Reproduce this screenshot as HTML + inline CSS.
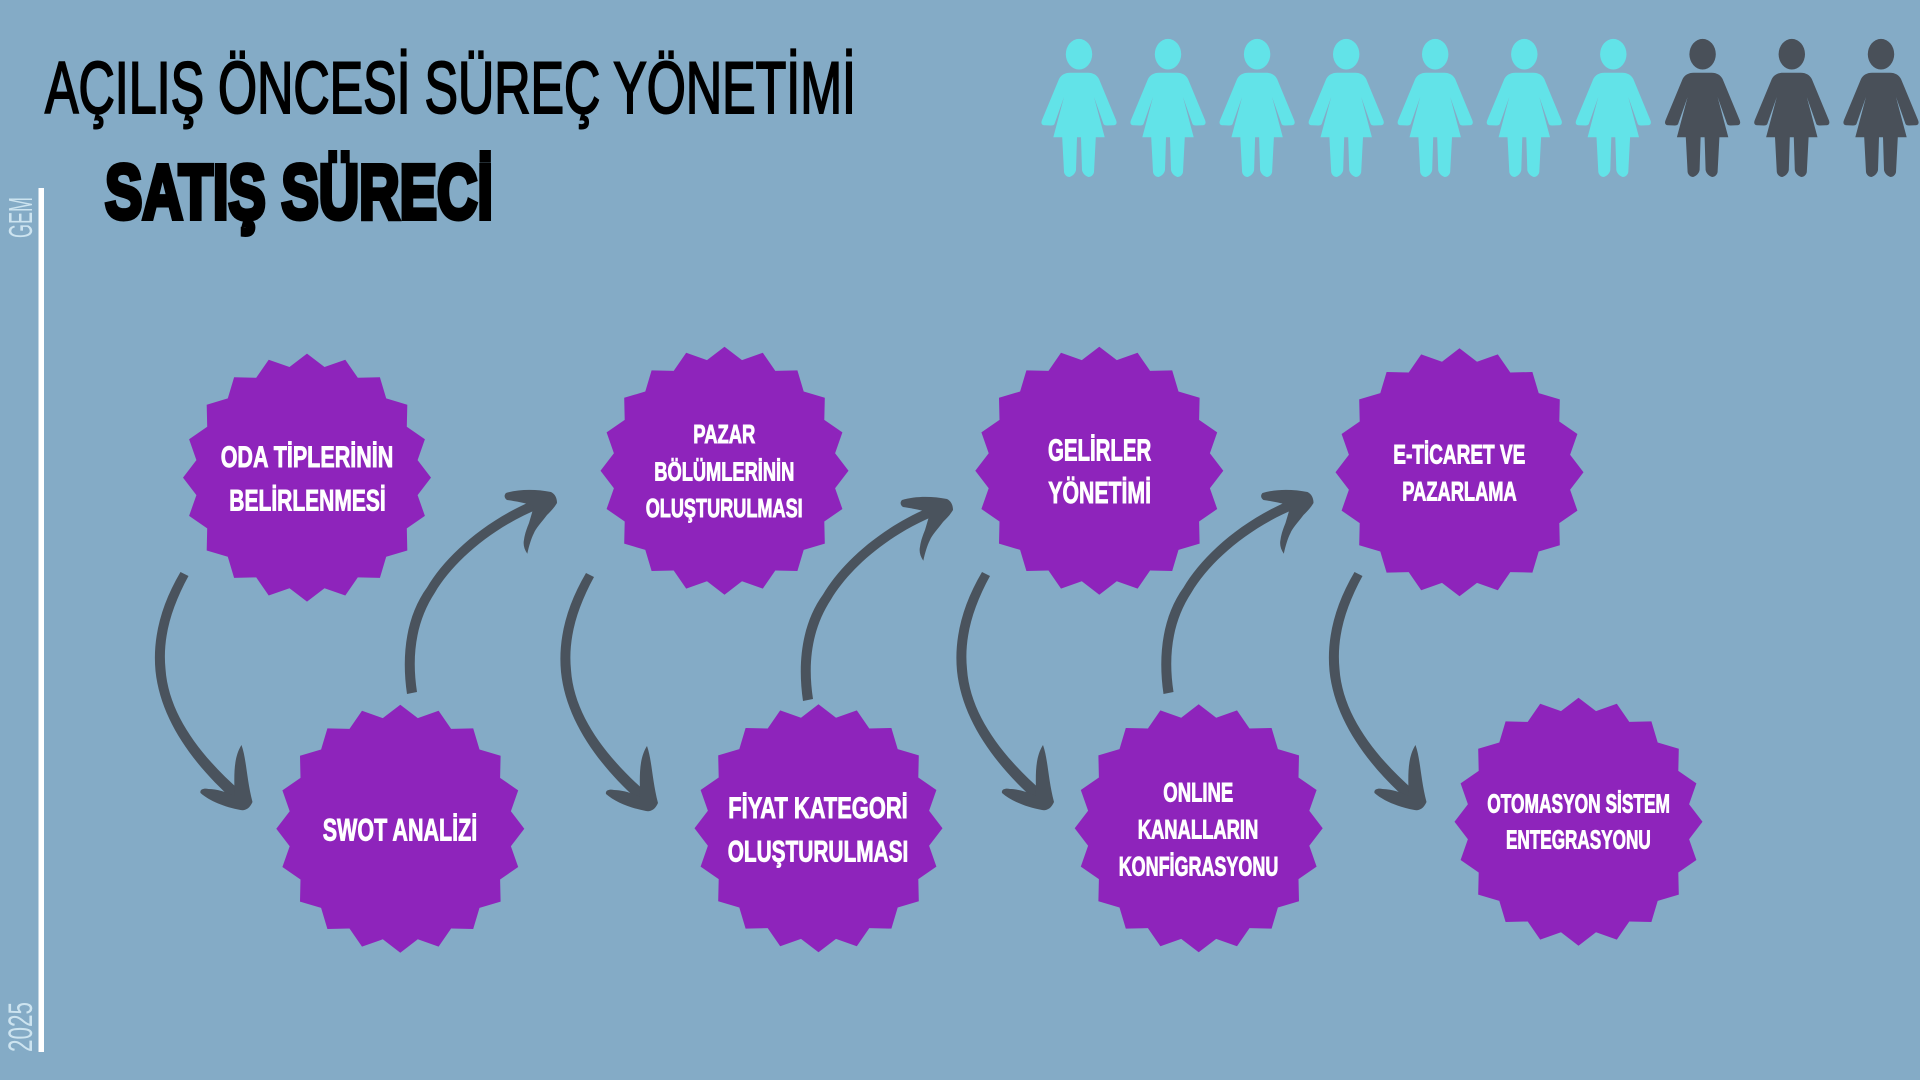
<!DOCTYPE html>
<html lang="tr">
<head>
<meta charset="utf-8">
<title>Açılış Öncesi Süreç Yönetimi</title>
<style>
html,body{margin:0;padding:0;width:1920px;height:1080px;overflow:hidden;background:#84abc6}
svg{display:block}
text{font-family:"Liberation Sans",sans-serif}
.b{font-weight:700;fill:#fff;stroke:#fff;stroke-width:.9px}
</style>
</head>
<body>
<svg xmlns="http://www.w3.org/2000/svg" width="1920" height="1080" viewBox="0 0 1920 1080">
<defs>
<polygon id="star" fill="#8e24bb" points="0,-124 17.5,-110.6 38.3,-117.9 50.8,-99.8 72.9,-100.3 79.2,-79.2 100.3,-72.9 99.8,-50.8 117.9,-38.3 110.6,-17.5 124,0 110.6,17.5 117.9,38.3 99.8,50.8 100.3,72.9 79.2,79.2 72.9,100.3 50.8,99.8 38.3,117.9 17.5,110.6 0,124 -17.5,110.6 -38.3,117.9 -50.8,99.8 -72.9,100.3 -79.2,79.2 -100.3,72.9 -99.8,50.8 -117.9,38.3 -110.6,17.5 -124,0 -110.6,-17.5 -117.9,-38.3 -99.8,-50.8 -100.3,-72.9 -79.2,-79.2 -72.9,-100.3 -50.8,-99.8 -38.3,-117.9 -17.5,-110.6"/>
<g id="person">
<ellipse cx="0" cy="54.2" rx="13.2" ry="15.3"/>
<path d="M-9,72.7H9C14,72.7 18,75 20,79L37,120C38.5,123.5 37,125.3 34,125.3L28,125.5C26,125.5 25,125 24.5,124L15,97L25.7,137.3H16.8L15,172C14.5,175 12,177 9.5,177C6,176 3.5,173 3,170L2,137.3H-2L-3,170C-3.5,173 -6,176 -9.5,177C-12,177 -14.5,175 -15,172L-16.8,137.3H-25.7L-15,97L-24.5,124C-25,125 -26,125.5 -28,125.5L-34,125.3C-37,125.3 -38.5,123.5 -37,120L-20,79C-18,75 -14,72.7 -9,72.7Z"/>
</g>
<g id="down" fill="#4a535d">
<path d="M586,573C566,607 558,640 561,672C566,720 598,765 640,802L646,792C606,757 574,715 571,670C568,640 576,610 594,577Z"/>
<path d="M647,746C652,760 652,780 658,803C655,810 650,812 646,811C630,808 615,802 606,794C605,790 610,789 614,790C622,790 632,793 640,797C640,780 638,760 647,746Z"/>
</g>
<g id="up" fill="#4a535d">
<path d="M803,701C797,660 803,622 823,594.5C841,564 880,527 935,505L939,514C888,534 849,569 831,599.5C813,627 807,660 813,699Z"/>
<path d="M902,500C915,496 932,496 947,499C951,501 953,505 953,510C950,515 947,518 943,522C937,530 932,535 930,540C927,546 925,553 923.3,560.7C920,556 919,551 920,546.7C921,540 923,535 925,530L930,513C922,510 910,508 903,507C900,505 900,502 902,500Z"/>
</g>
</defs>

<rect width="1920" height="1080" fill="#84abc6"/>

<!-- Titles -->
<text x="45" y="113" font-size="73" fill="#000" stroke="#000" stroke-width="2" textLength="811" lengthAdjust="spacingAndGlyphs">AÇILIŞ ÖNCESİ SÜREÇ YÖNETİMİ</text>
<text x="105" y="218.5" font-size="77" font-weight="700" fill="#000" stroke="#000" stroke-width="5" textLength="388" lengthAdjust="spacingAndGlyphs">SATIŞ SÜRECİ</text>

<!-- Side timeline -->
<rect x="38.5" y="188" width="5.5" height="864" fill="#fff"/>
<text transform="translate(32 238) rotate(-90)" font-size="33" fill="#d6ebf5" textLength="41" lengthAdjust="spacingAndGlyphs" opacity=".9">GEM</text>
<text transform="translate(32 1052) rotate(-90)" font-size="34" fill="#d6ebf5" textLength="50" lengthAdjust="spacingAndGlyphs" opacity=".9">2025</text>

<!-- People -->
<g fill="#62e3e8">
<use href="#person" transform="translate(1079 0)"/>
<use href="#person" transform="translate(1168 0)"/>
<use href="#person" transform="translate(1257.1 0)"/>
<use href="#person" transform="translate(1346.2 0)"/>
<use href="#person" transform="translate(1435.2 0)"/>
<use href="#person" transform="translate(1524.3 0)"/>
<use href="#person" transform="translate(1613.3 0)"/>
</g>
<g fill="#495059">
<use href="#person" transform="translate(1702.6 0)"/>
<use href="#person" transform="translate(1791.8 0)"/>
<use href="#person" transform="translate(1881 0)"/>
</g>

<!-- Arrows -->
<use href="#down" transform="translate(-405.5 -1)"/>
<use href="#up" transform="translate(-396 -7)"/>
<use href="#down"/>
<use href="#up"/>
<use href="#down" transform="translate(396 -1)"/>
<use href="#up" transform="translate(360.5 -7)"/>
<use href="#down" transform="translate(768.5 -1)"/>

<!-- Badges -->
<use href="#star" transform="translate(307 477.6)"/>
<use href="#star" transform="translate(724.5 470.7)"/>
<use href="#star" transform="translate(1099.3 470.7)"/>
<use href="#star" transform="translate(1459.5 472.3)"/>
<use href="#star" transform="translate(400.3 828.7)"/>
<use href="#star" transform="translate(818.5 828.3)"/>
<use href="#star" transform="translate(1198.7 828.3)"/>
<use href="#star" transform="translate(1578.5 821.7)"/>

<!-- Badge labels -->
<text class="b" x="220.7" y="467" font-size="29.5" textLength="172.6" lengthAdjust="spacingAndGlyphs">ODA TİPLERİNİN</text>
<text class="b" x="229.3" y="510.5" font-size="29.5" textLength="156.4" lengthAdjust="spacingAndGlyphs">BELİRLENMESİ</text>

<text class="b" x="693.3" y="443" font-size="25.5" textLength="62" lengthAdjust="spacingAndGlyphs">PAZAR</text>
<text class="b" x="654.3" y="480.4" font-size="25.5" textLength="140" lengthAdjust="spacingAndGlyphs">BÖLÜMLERİNİN</text>
<text class="b" x="645.7" y="517" font-size="25.5" textLength="157" lengthAdjust="spacingAndGlyphs">OLUŞTURULMASI</text>

<text class="b" x="1048" y="460.4" font-size="30.5" textLength="103.3" lengthAdjust="spacingAndGlyphs">GELİRLER</text>
<text class="b" x="1048.3" y="503" font-size="30.5" textLength="102.7" lengthAdjust="spacingAndGlyphs">YÖNETİMİ</text>

<text class="b" x="1393.3" y="463.7" font-size="27" textLength="132" lengthAdjust="spacingAndGlyphs">E-TİCARET VE</text>
<text class="b" x="1402.3" y="500.7" font-size="27" textLength="114.4" lengthAdjust="spacingAndGlyphs">PAZARLAMA</text>

<text class="b" x="322.7" y="840.7" font-size="31.5" textLength="154.6" lengthAdjust="spacingAndGlyphs">SWOT ANALİZİ</text>

<text class="b" x="728.3" y="818" font-size="30" textLength="179.4" lengthAdjust="spacingAndGlyphs">FİYAT KATEGORİ</text>
<text class="b" x="727.7" y="861.4" font-size="30" textLength="180.6" lengthAdjust="spacingAndGlyphs">OLUŞTURULMASI</text>

<text class="b" x="1163.3" y="801.7" font-size="26.5" textLength="70" lengthAdjust="spacingAndGlyphs">ONLINE</text>
<text class="b" x="1137.7" y="838.7" font-size="26.5" textLength="120.6" lengthAdjust="spacingAndGlyphs">KANALLARIN</text>
<text class="b" x="1118.7" y="875.7" font-size="26.5" textLength="159.6" lengthAdjust="spacingAndGlyphs">KONFİGRASYONU</text>

<text class="b" x="1487.3" y="812.4" font-size="25.5" textLength="182.7" lengthAdjust="spacingAndGlyphs">OTOMASYON SİSTEM</text>
<text class="b" x="1506" y="848.7" font-size="25.5" textLength="144.7" lengthAdjust="spacingAndGlyphs">ENTEGRASYONU</text>
</svg>
</body>
</html>
